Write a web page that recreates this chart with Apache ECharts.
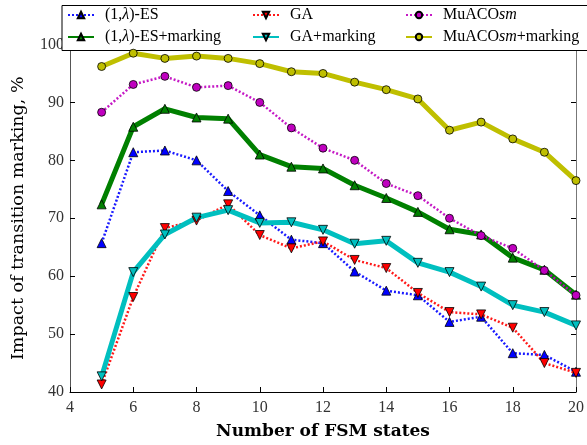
<!DOCTYPE html>
<html><head><meta charset="utf-8">
<script src="https://cdn.jsdelivr.net/npm/echarts@6/dist/echarts.min.js"></script>
<style>html,body{margin:0;padding:0;background:#fff}#c{width:587px;height:445px}</style>
</head><body><div id="c"></div>
<script>
const states = [5,6,7,8,9,10,11,12,13,14,15,16,17,18,19,20];
const esPlain   = [65.7,81.4,81.7,80.0,74.7,70.5,66.3,65.7,60.8,57.5,56.7,52.1,53.0,46.7,46.4,43.5];
const esMark    = [72.4,85.8,88.9,87.4,87.2,81.0,78.9,78.6,75.7,73.5,71.1,68.1,67.2,63.2,61.1,56.8];
const gaPlain   = [41.3,56.4,68.3,69.6,72.4,67.1,64.8,66.0,62.8,61.4,57.1,53.8,53.4,51.1,45.0,43.3];
const gaMark    = [42.7,60.7,67.2,70.1,71.4,69.2,69.3,68.0,65.6,66.1,62.3,60.7,58.2,55.0,53.8,51.5];
const acoPlain  = [88.3,93.1,94.5,92.6,92.9,90.0,85.6,82.1,80.0,76.0,73.9,70.0,67.0,64.8,61.0,56.7];
const acoMark   = [96.2,98.5,97.6,98.0,97.6,96.7,95.3,95.0,93.5,92.2,90.6,85.2,86.6,83.7,81.4,76.5];
const xTicks = [4,6,8,10,12,14,16,18,20];
const yTicks = [40,50,60,70,80,90,100];
const names = ['(1,λ)-ES','(1,λ)-ES+marking','GA','GA+marking','MuACOsm','MuACOsm+marking'];

const FONT = 'Liberation Serif';
const TFONT = 'DejaVu Serif';
const pairs = a => states.map((s,i)=>[s,a[i]]);
function mk(name, data, color, dotted, symbol, rot){
  return {
    name, type:'line', data: pairs(data), symbol, symbolSize: symbol==='circle'?8:9, symbolRotate: rot||0,
    lineStyle:{color, width: dotted?2.5:5, type: dotted?[2,2]:'solid', opacity: dotted?0.9:1},
    itemStyle:{color, borderColor:'#000', borderWidth:0.8},
    emphasis:{disabled:true}, animation:false
  };
}
const fmt = n => n.replace('λ','{i|λ}').replace('sm','{i|sm}');
const rich = {i:{fontStyle:'italic', fontFamily:FONT, fontSize:16, color:'#000', lineHeight:14}};
function leg(left, data){
  return {orient:'vertical', left, top:7, padding:0, itemWidth:26, itemHeight:8, itemGap:6,
    data, formatter: fmt, selectedMode:false,
    textStyle:{fontFamily:FONT, fontSize:16, color:'#000', lineHeight:14, padding:[0,0,0,6], rich}};
}
const chart = echarts.init(document.getElementById('c'));
chart.setOption({
  animation:false,
  grid:{left:70, right:9, top:44.5, bottom:50},
  xAxis:[{type:'value', min:4, max:20, interval:2,
    axisLine:{lineStyle:{color:'#000'}}, axisTick:{inside:true, length:5, lineStyle:{color:'#000'}},
    splitLine:{show:false},
    axisLabel:{fontFamily:FONT, fontSize:16, color:'#333', margin:8},
    name:'Number of FSM states', nameLocation:'middle', nameGap:31,
    nameTextStyle:{fontFamily:TFONT, fontSize:17, fontWeight:'bold', color:'#000'}},
    {type:'value', min:4, max:20, interval:2, position:'top',
    axisLine:{lineStyle:{color:'#000'}}, axisTick:{inside:true, length:5}, axisLabel:{show:false}, splitLine:{show:false}}],
  yAxis:[{type:'value', min:40, max:100, interval:10,
    axisLine:{show:true, lineStyle:{color:'#555'}}, axisTick:{show:true, inside:true, length:5, lineStyle:{color:'#000'}},
    splitLine:{show:false},
    axisLabel:{fontFamily:FONT, fontSize:16, color:'#333', margin:6},
    name:'Impact of transition marking, %', nameLocation:'middle', nameGap:43,
    nameTextStyle:{fontFamily:TFONT, fontSize:17.5, color:'#000'}},
    {type:'value', min:40, max:100, interval:10, position:'right',
    axisLine:{show:true, lineStyle:{color:'#777'}}, axisTick:{show:true, inside:true, length:5, lineStyle:{color:'#000'}},
    axisLabel:{show:false}, splitLine:{show:false}}],
  legend:[leg(67,[names[0],names[1]]), leg(252,[names[2],names[3]]), leg(405,[names[4],names[5]])],
  graphic:[{type:'rect', shape:{x:62, y:5.5, width:560, height:45}, style:{fill:'#fff', stroke:'#000', lineWidth:1}, z:3, silent:true}],
  series:[
    mk(names[0], esPlain, '#0000ff', true, 'triangle'),
    mk(names[1], esMark, '#008000', false, 'triangle'),
    mk(names[2], gaPlain, '#ff0000', true, 'triangle', 180),
    mk(names[3], gaMark, '#00bfbf', false, 'triangle', 180),
    mk(names[4], acoPlain, '#bf00bf', true, 'circle'),
    mk(names[5], acoMark, '#bfbf00', false, 'circle')
  ]
});
</script></body></html>
